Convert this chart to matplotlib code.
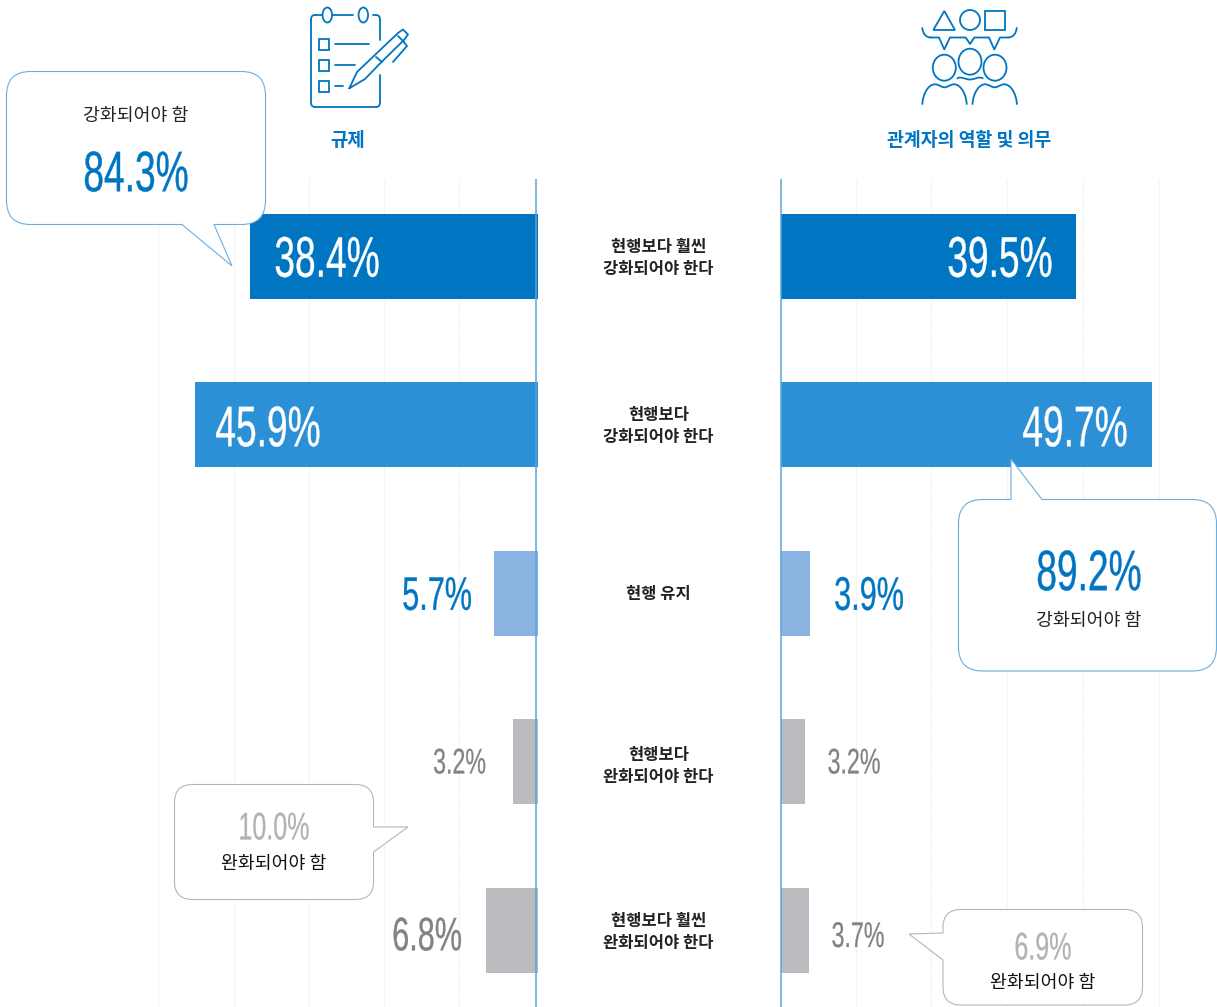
import matplotlib
matplotlib.use('Agg')
import matplotlib.pyplot as plt
import matplotlib.patheffects as pe
from matplotlib.patches import Circle, Ellipse, PathPatch, Polygon, Rectangle
from matplotlib.path import Path
from matplotlib.transforms import Affine2D

W, H = 1217, 1007

# data
categories = ['현행보다 훨씬\n강화되어야 한다', '현행보다\n강화되어야 한다', '현행 유지',
              '현행보다\n완화되어야 한다', '현행보다 훨씬\n완화되어야 한다']
regulation = [38.4, 45.9, 5.7, 3.2, 6.8]
stakeholder = [39.5, 49.7, 3.9, 3.2, 3.7]
bar_regulation = [38.5, 45.9, 5.9, 3.3, 6.9]
bar_stakeholder = [39.5, 49.7, 3.9, 3.2, 3.7]
bar_colors = ['#0075c2', '#2b90d5', '#89b4e1', '#bbbcc0', '#bbbcc0']
grid_left = [10.55, 20.6, 30.7, 40.7, 50.9]
grid_right = [10.05, 20.1, 30.3, 40.4, 50.6]
title_left = '규제'
title_right = '관계자의 역할 및 의무'
strengthen = '강화되어야 함'
relax = '완화되어야 함'

BLUE = '#0075c2'
NUM_FONT = ['Liberation Sans Narrow', 'Liberation Sans', 'DejaVu Sans']
KR_FONT = ['Noto Sans CJK KR', 'DejaVu Sans']


class Squeeze(pe.AbstractPathEffect):
    # narrow the glyphs around the anchor, no condensed font is installed
    def __init__(self, cx, sx, stroke):
        super().__init__()
        self.cx, self.sx, self.stroke = cx, sx, stroke

    def draw_path(self, renderer, gc, tpath, affine, rgbFace=None):
        t = affine + Affine2D().translate(-self.cx, 0).scale(self.sx, 1).translate(self.cx, 0)
        gc0 = renderer.new_gc()
        gc0.copy_properties(gc)
        gc0.set_foreground(rgbFace)
        gc0.set_linewidth(self.stroke)
        renderer.draw_path(gc0, tpath, t, rgbFace)
        gc0.restore()


fig = plt.figure(figsize=(W / 100, H / 100), dpi=100, facecolor='white')


def make_axes(x0, x1, xlim):
    ax = fig.add_axes([x0 / W, 1 - 1007 / H, (x1 - x0) / W, (1007 - 179) / H])
    ax.set_xlim(*xlim)
    ax.set_ylim(4.455, -0.46)
    ax.axis('off')
    return ax


SCALE = 7.46
axl = make_axes(150, 537.6, (387.6 / SCALE, 0))
axr = make_axes(781.4, 1170, (0, 388.6 / SCALE))

for ax, vals, grid, base in [(axl, bar_regulation, grid_left, 0.28), (axr, bar_stakeholder, grid_right, -0.02)]:
    ax.vlines(grid, -0.46, 4.455, color='#efeff0', lw=0.8, ls=(0, (2, 1)), zorder=1)
    ax.barh(range(5), vals, height=85 / 168.5, color=bar_colors, zorder=2)
    ax.vlines(base, -0.46, 4.455, color='#5aa5d8', lw=1.1, zorder=3, clip_on=False)

# overlay in pixel coordinates for icons, callouts and text
ov = fig.add_axes([0, 0, 1, 1], zorder=5)
ov.set_xlim(0, W)
ov.set_ylim(H, 0)
ov.axis('off')
ov.patch.set_alpha(0)


def num(x, y, value, color, px):
    # px is the digit height in pixels
    size = px / 0.70 * 0.72
    ov.text(x, y - px * 0.02, f'{value:.1f}%', color=color, fontsize=size, family=NUM_FONT, ha='center',
            va='center_baseline', path_effects=[Squeeze(x, 0.65, px * 0.007)])


def kr(x, y, s, color='#222222', size=13.2, weight='normal', **kw):
    ov.text(x, y, s, color=color, fontsize=size, family=KR_FONT, weight=weight, ha='center',
            va='center', **kw)


def callout(x0, y0, x1, y1, r, side, tail, edge, lw=0.8):
    k = Path.CURVE3
    verts, codes = [(x0 + r, y0)], [Path.MOVETO]

    def add(pts):
        verts.extend(pts)
        codes.extend([Path.LINETO] * len(pts))
    if side == 'top':
        add(tail)
    add([(x1 - r, y0)])
    verts += [(x1, y0), (x1, y0 + r)]
    codes += [k, k]
    if side == 'right':
        add(tail)
    add([(x1, y1 - r)])
    verts += [(x1, y1), (x1 - r, y1)]
    codes += [k, k]
    if side == 'bottom':
        add(tail)
    add([(x0 + r, y1)])
    verts += [(x0, y1), (x0, y1 - r)]
    codes += [k, k]
    if side == 'left':
        add(tail)
    add([(x0, y0 + r)])
    verts += [(x0, y0), (x0 + r, y0)]
    codes += [k, k]
    ov.add_patch(PathPatch(Path(verts, codes), fc='white', ec=edge, lw=lw, zorder=2))


def line(pts, lw=1.3):
    xs, ys = zip(*pts)
    ov.plot(xs, ys, color=BLUE, lw=lw, solid_capstyle='round', solid_joinstyle='round', zorder=4)


def curve(start, *segs):
    verts, codes = [start], [Path.MOVETO]
    for seg in segs:
        verts.extend(seg)
        codes.extend([Path.CURVE4] * 3)
    ov.add_patch(PathPatch(Path(verts, codes), fc='none', ec=BLUE, lw=1.3, capstyle='round', zorder=4))


def outline(patch):
    patch.set(fc='none', ec=BLUE, lw=1.3, zorder=4)
    ov.add_patch(patch)


# clipboard icon
line([(322, 15), (315, 15)])
curve((315, 15), [(312, 15), (311, 17), (311, 20)])
line([(311, 20), (311, 102)])
curve((311, 102), [(311, 105), (312, 107), (315, 107)])
line([(315, 107), (376, 107)])
curve((376, 107), [(379, 107), (380, 105), (380, 102)])
line([(380, 102), (380, 75)])
line([(373, 15), (376, 15)])
curve((376, 15), [(379, 15), (380, 17), (380, 20)])
line([(380, 20), (380, 40)])
line([(333, 15), (353, 15)])
for cx in [327.3, 363.3]:
    outline(Ellipse((cx, 15), 9.5, 15))
for y0, x1 in [(39, 369), (60, 355), (81, 343)]:
    outline(Rectangle((318.5, y0), 10.5, 10.5))
    line([(335, y0 + 5.2), (x1, y0 + 5.2)])
line([(349.3, 88.3), (357, 72), (398, 33), (403, 29.5), (408, 34.5), (404, 40), (381.5, 62), (365, 79), (349.3, 88.3)])
line([(376, 57), (382, 62)])
line([(398, 36), (403.5, 41.5)])
line([(403.5, 41.5), (407, 46), (393, 62)])

# people icon
outline(Polygon([(944.3, 11), (933.3, 30), (955, 30)], closed=True))
outline(Circle((970, 20), 10))
outline(Rectangle((985, 10.7), 20, 19.3))
curve((922.3, 28), [(923, 34), (926, 37.5), (931, 37.5)])
line([(931, 37.5), (939, 37.5), (944.3, 49.5), (950, 37.5), (965.7, 37.5), (970, 44), (974.3, 37.5),
      (989, 37.5), (994.3, 49.5), (1000, 37.5), (1008, 37.5)])
curve((1008, 37.5), [(1013, 37.5), (1016, 34), (1016.7, 28)])
for cx, cy in [(944.3, 67.7), (970, 61.7), (995, 67.7)]:
    outline(Ellipse((cx, cy), 23, 26))
curve((957.3, 78.3), [(961, 76), (965, 79.5), (970, 79.5)], [(975, 79.5), (979, 76), (982.7, 78.3)])
for dx in [0, 50.2]:
    curve((922.3 + dx, 104),
          [(923 + dx, 93), (929 + dx, 84), (935 + dx, 84.3)],
          [(939 + dx, 84.5), (941 + dx, 87.3), (944.5 + dx, 87.3)],
          [(948 + dx, 87.3), (950 + dx, 84.5), (954 + dx, 84.3)],
          [(960 + dx, 84), (966 + dx, 93), (966.7 + dx, 104)])

kr(347.5, 140, title_left, color=BLUE, size=13.6, weight='bold')
kr(969.5, 140, title_right, color=BLUE, size=13.2, weight='bold')

# bar value labels
left_x = [327, 268, 437, 459.5, 427]
right_x = [1000, 1075, 869, 854, 858]
center_y = [256.5, 426, 593.5, 760.5, 934]
left_col = ['white', 'white', BLUE, '#808285', '#808285']
right_col = ['white', 'white', BLUE, '#808285', '#808285']
left_px = [40, 40, 33, 25, 33]
right_px = [40, 40, 33, 25, 25]
for i in range(5):
    num(left_x[i], center_y[i], regulation[i], left_col[i], left_px[i])
    num(right_x[i], center_y[i], stakeholder[i], right_col[i], right_px[i])

# category labels
label_y = [258, 426, 594, 766, 932]
for s, y in zip(categories, label_y):
    kr(658.5, y, s, color='#222222', size=11.9, weight='bold', linespacing=1.32)

# callouts
callout(6.5, 71.5, 265.5, 224.5, 24, 'bottom', [(214, 224.5), (232, 266), (182, 224.5)], '#6aaee0')
kr(136, 116, strengthen)
num(136, 171, 84.3, BLUE, 40)

callout(958.5, 499.5, 1216.5, 671, 24, 'top', [(1011, 499.5), (1011, 459), (1042, 499.5)], '#6aaee0')
num(1089, 570, 89.2, BLUE, 40)
kr(1089, 621, strengthen)

callout(174.5, 784.5, 373.5, 899.5, 18, 'right', [(373.5, 827), (408, 827), (373.5, 852)], '#b5b6ba')
num(274, 826, 10.0, '#b1b2b6', 27)
kr(274, 864, relax, color='#111111')

callout(943, 909.5, 1142.5, 1005, 18, 'left', [(943, 960), (909, 934), (943, 933)], '#b5b6ba')
num(1043, 946, 6.9, '#b1b2b6', 27)
kr(1043, 983, relax, color='#111111')

fig.savefig('out.png', dpi=100)
